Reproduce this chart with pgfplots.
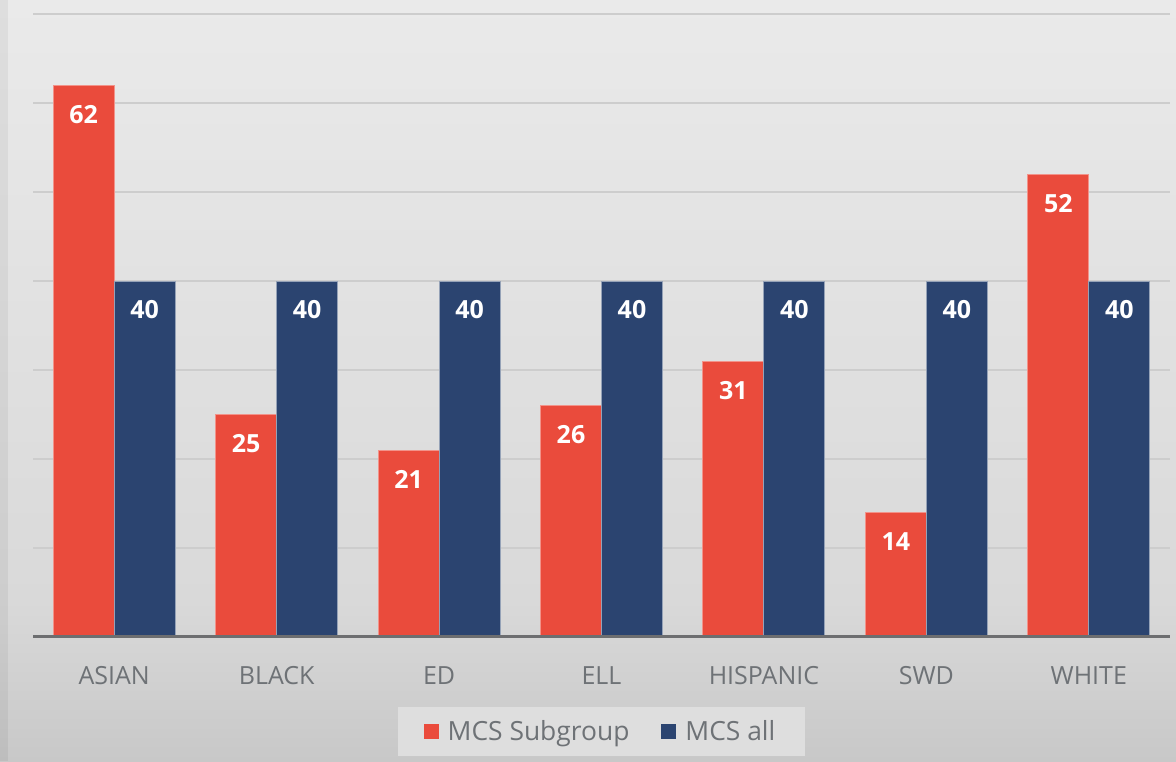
\documentclass[border=0pt]{standalone}
\usepackage{fontspec}
\setmainfont{Open Sans}
\usepackage{pgfplots}
\pgfplotsset{compat=1.18}

\definecolor{subred}{HTML}{EA4B3C}
\definecolor{allblue}{HTML}{2B4470}
\definecolor{txtgray}{HTML}{6E7276}
\definecolor{gridgray}{HTML}{CDCDCD}
\definecolor{axgray}{HTML}{6D6E70}
\definecolor{bgtop}{HTML}{EAEAEA}
\definecolor{bgmid}{HTML}{D9D9D9}
\definecolor{bgbot}{HTML}{C8C8C8}
\definecolor{legfill}{HTML}{DEDEDE}

\begin{document}
\begin{tikzpicture}
% background, 1px = 0.5pt
\shade[top color=bgmid, bottom color=bgbot, draw=none] (-16.5pt,-62pt) rectangle (571.5pt,18pt);
\shade[top color=bgtop, bottom color=bgmid, draw=none] (-16.5pt,17.9pt) rectangle (571.5pt,318.5pt);
\fill[black, opacity=0.05] (-16.5pt,-62pt) rectangle (-12.5pt,318.5pt);
\begin{axis}[
  scale only axis,
  width=568.5pt, height=311.5pt,
  ybar, bar width=30.5pt,
  xmin=-0.5, xmax=6.5, ymin=0, ymax=70,
  xtick={0,1,2,3,4,5,6},
  xticklabels={ASIAN,BLACK,ED,ELL,HISPANIC,SWD,WHITE},
  ytick={10,20,30,40,50,60,70},
  yticklabels={},
  major tick length=0pt,
  ymajorgrids=true,
  grid style={draw=gridgray, line width=0.6pt},
  axis line style={draw=none},
  xticklabel style={font=\fontsize{12.5}{15}\selectfont, text=txtgray, anchor=center, yshift=-19.5pt},
  /pgf/number format/assume math mode=true,
  nodes near coords,
  every node near coord/.append style={font=\bfseries\fontsize{12.5}{15}\selectfont, text=white, anchor=center, yshift=-14.5pt},
  legend style={at={(0.5,0)}, anchor=north, yshift=-35pt, fill=legfill, draw=none,
    font=\fontsize{13.2}{16}\selectfont, text=txtgray, inner xsep=13pt, inner ysep=4.5pt,
    legend columns=2, /tikz/every even column/.append style={column sep=14pt}},
  legend image code/.code={\fill[#1, draw=none] (0pt,-3.75pt) rectangle (7.5pt,3.75pt);
    \path[draw=none, fill=none] (10pt,0pt);},
]
\addplot[fill=subred, draw=subred!60!white, line width=0.5pt, bar shift=-15.25pt] coordinates {
  (0,62)(1,25)(2,21)(3,26)(4,31)(5,14)(6,52)};
\addlegendentry{MCS Subgroup}
\addplot[fill=allblue, draw=allblue!50!white, line width=0.5pt, bar shift=15.25pt] coordinates {
  (0,40)(1,40)(2,40)(3,40)(4,40)(5,40)(6,40)};
\addlegendentry{MCS all}
\draw[axgray, line width=1.75pt] (rel axis cs:0,0) -- (rel axis cs:1,0);
\end{axis}
\end{tikzpicture}
\end{document}
